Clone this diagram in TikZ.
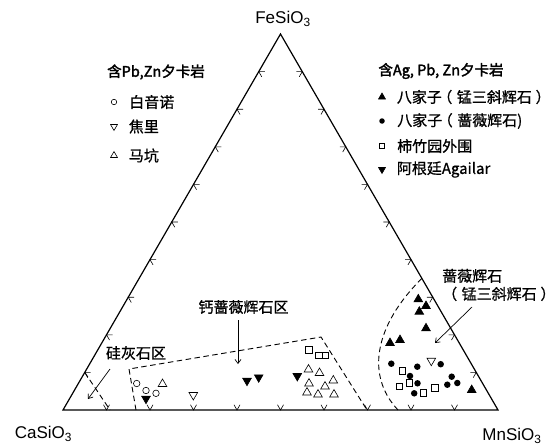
\documentclass[tikz,border=0pt]{standalone}
\usepackage{fontspec}
\setmainfont{Liberation Sans}
\newfontfamily\cjk[FakeBold=0.8]{Noto Sans CJK SC}
\newfontfamily\cjkbf[FakeBold=2.2]{Noto Sans CJK SC}
\usetikzlibrary{arrows.meta,shapes.geometric,calc,positioning}

\tikzset{
  edge/.style={line width=1.2pt,line join=miter},
  tick/.style={line width=.6pt},
  zone/.style={line width=.9pt,dash pattern=on 5.5pt off 3.5pt},
  pnt/.style={inner sep=0pt,line width=.6pt},
  opn/.style={pnt,circle,draw,minimum size=6.5pt},
  dot/.style={pnt,circle,fill,minimum size=6.5pt},
  sqr/.style={pnt,rectangle,draw,minimum size=6.5pt},
  tup/.style={pnt,regular polygon,regular polygon sides=3,draw,minimum size=10pt},
  tdn/.style={tup,shape border rotate=180},
  ftup/.style={tup,fill},
  ftdn/.style={tdn,fill},
  txt/.style={inner sep=0pt},
  ttl/.style={inner sep=0pt,font=\cjkbf\fontsize{14.5}{17}\selectfont},
  cmp/.style={inner sep=0pt,font=\rmfamily\fontsize{17}{20}\selectfont},
  >={Straight Barb[length=4pt,width=6pt]}
}
\newcommand\lp{\hspace{-.3em}（\hspace{.3em}}
\newcommand\rp{\hspace{.25em}）\hspace{-.4em}}

\begin{document}
\begin{tikzpicture}[x=1pt,y=-1pt,font=\cjk\fontsize{15}{18}\selectfont]
\useasboundingbox (0,0) rectangle (554,447);
\coordinate (ca) at (63,410);
\coordinate (mn) at (498,410);
\coordinate (fe) at (280.5,34);
\draw[edge] (ca) -- (mn) -- (fe) -- cycle;
\foreach \k in {1,...,9} {
  \draw[tick] ($(ca)!\k/10!(mn)$) ++(-3,-5.2) -- ++(3,5.2) -- ++(3,-5.2);
  \draw[tick] ($(ca)!\k/10!(fe)$) ++(6,0) -- ++(-6,0) -- ++(3,5.2);
  \draw[tick] ($(mn)!\k/10!(fe)$) ++(-6,0) -- ++(6,0) -- ++(-3,5.2);
}
\node[cmp] (fel) at (283,19) {FeSiO\textsubscript{3}};
\node[cmp] (cal) at (43.5,434) {CaSiO\textsubscript{3}};
\node[cmp] (mnl) at (512,436) {MnSiO\textsubscript{3}};

\node[ttl] (lt) at (156,72) {含Pb,Zn夕卡岩};
\node[opn,minimum size=5.5pt] (lg1) at (114,102) {};
\node[tdn,minimum size=8pt] (lg2) at (114,126.5) {};
\node[tup,minimum size=8pt] (lg3) at (114,155.5) {};
\node[txt,right=12pt of lg1] {白音诺};
\node[txt,right=12pt of lg2] {焦里};
\node[txt,right=12pt of lg3] {马坑};

\node[ttl] (rt) at (441,71) {含Ag, Pb, Zn夕卡岩};
\node[ftup,minimum size=8pt] (rg1) at (382,97) {};
\node[dot,minimum size=5.5pt] (rg2) at (382,121) {};
\node[sqr,minimum size=5.5pt] (rg3) at (382,146) {};
\node[ftdn,minimum size=8pt] (rg4) at (382,169.5) {};
\node[txt,right=12pt of rg1] {八家子\lp 锰三斜辉石\rp};
\node[txt,right=12pt of rg2] {八家子\lp 蔷薇辉石)};
\node[txt,right=12pt of rg3] {柿竹园外围};
\node[txt,right=12pt of rg4] {阿根廷Agailar};

\draw[zone] ($(ca)!.1!(fe)$) -- (110,410);
\draw[zone] (136,410) -- (129,369) -- (321,337) -- (367,410);
\draw[zone] ($(mn)!.35!(fe)$) .. controls (375,325) and (365,375) .. (398,410);

\node[txt] (wo) at (136,353) {硅灰石区};
\coordinate (wo1) at (110,369);
\coordinate (wo2) at (88,399);
\draw[->,line width=.7pt] (wo1) -- (wo2);
\node[txt] (bu) at (243.5,307) {钙蔷薇辉石区};
\coordinate (bu1) at (238,320);
\coordinate (bu2) at (238,364);
\draw[->,line width=.7pt] (bu1) -- (bu2);
\node[txt,align=left,anchor=west] (rd) at (442,285) {蔷薇辉石\\（\hspace{.3em}锰三斜辉石\rp};
\coordinate (rd1) at (472,307);
\coordinate (rd2) at (435,343);
\draw[->,line width=.7pt] (rd1) -- (rd2);

\foreach \x/\y [count=\i] in {136.7/383.5,146/390.5,156/393.3}
  \node[opn] (bn\i) at (\x,\y) {};
\foreach \x/\y [count=\i] in {193.3/395,431.3/360.7}
  \node[tdn] (jl\i) at (\x,\y) {};
\foreach \x/\y [count=\i] in {162.5/384,308.5/369.5,319.5/373,309/383.5,325/386.5,333.3/380.5,307/392.5,318/394.5,334/394.5}
  \node[tup] (mk\i) at (\x,\y) {};
\foreach \x/\y [count=\i] in {418.3/299.3,426/306,419.3/311.7,426/328.3,390/343,400/340,471.7/390}
  \node[ftup] (bt\i) at (\x,\y) {};
\foreach \x/\y [count=\i] in {391.3/363.7,417.3/366.7,410/376,417.5/383.3,414.2/393.3,440.7/364.2,451.7/376.7,447.3/384.7,457.3/383}
  \node[dot] (bd\i) at (\x,\y) {};
\foreach \x/\y [count=\i] in {309/350,319/355.5,325.5/355.5,402.5/370.8,399.3/386.3,409.3/382.7,423.3/392.7,434.7/388}
  \node[sqr] (sz\i) at (\x,\y) {};
\foreach \x/\y [count=\i] in {146/398.7,247/380.7,258.7/377.3,297.3/376}
  \node[ftdn] (ag\i) at (\x,\y) {};
\end{tikzpicture}
\end{document}
